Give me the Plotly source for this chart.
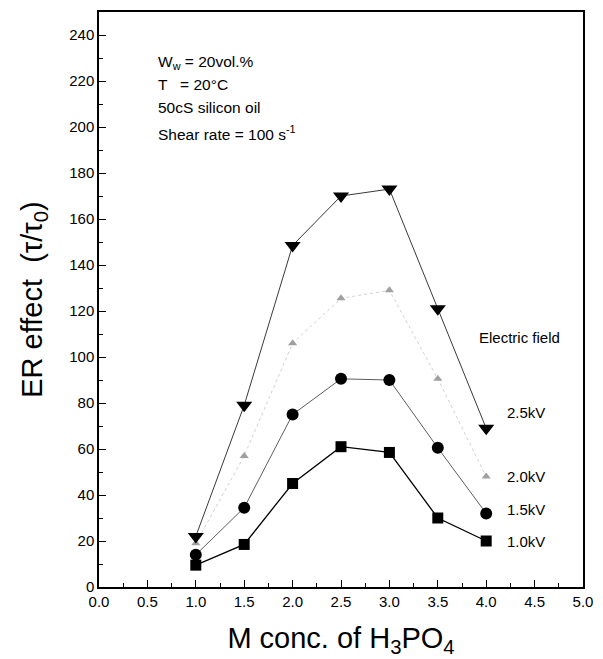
import plotly.graph_objects as go

conc = [1.0, 1.5, 2.0, 2.5, 3.0, 3.5, 4.0]
kv10 = [9.5, 18.5, 45, 61, 58.5, 30, 20]
kv15 = [14, 34.5, 75, 90.5, 90, 60.5, 32]
kv20 = [19, 57, 106, 125.5, 129, 90.5, 48]
kv25 = [22, 79, 148.5, 170, 173, 121, 69]
labels = ["1.0kV", "1.5kV", "2.0kV", "2.5kV"]
xticks = [0.0, 0.5, 1.0, 1.5, 2.0, 2.5, 3.0, 3.5, 4.0, 4.5, 5.0]
yticks = list(range(0, 241, 20))

fig = go.Figure()
fig.add_trace(go.Scatter(x=conc, y=kv20, mode="lines+markers",
                         line=dict(color="#d0d0d0", width=1, dash="dot"),
                         marker=dict(symbol="triangle-up", size=8, color="#a0a0a0")))
fig.add_trace(go.Scatter(x=conc, y=kv10, mode="lines+markers",
                         line=dict(color="black", width=1.3),
                         marker=dict(symbol="square", size=11, color="black")))
fig.add_trace(go.Scatter(x=conc, y=kv15, mode="lines+markers",
                         line=dict(color="#333", width=0.8),
                         marker=dict(symbol="circle", size=12, color="black")))
fig.add_trace(go.Scatter(x=conc, y=kv25, mode="lines+markers",
                         line=dict(color="#222", width=0.9),
                         marker=dict(symbol="triangle-down", size=14, color="black")))

font = dict(family="Arial, Liberation Sans", color="black")
ann = []
lab_y = [kv10[-1], kv15[-1], kv20[-1], kv25[-1]]
offs = [0, 1.8, 0, 7]
for t, yv, o in zip(labels, lab_y, offs):
    ann.append(dict(x=4.19, y=yv + o, xref="x", yref="y", text=t, showarrow=False,
                    xanchor="left", yanchor="middle", font=dict(size=15, **font)))
ann.append(dict(x=3.9, y=108.5, xref="x", yref="y", text="Electric field", showarrow=False,
                xanchor="left", yanchor="middle", font=dict(size=15, **font)))
info = ["W<sub>w</sub> = 20vol.%", "T   = 20°C", "50cS silicon oil", "Shear rate = 100 s<sup>-1</sup>"]
info_y = [228, 218.5, 208.5, 197.5]
for t, yv in zip(info, info_y):
    ann.append(dict(x=0.59, y=yv, xref="x", yref="y", text=t, showarrow=False,
                    xanchor="left", yanchor="middle", font=dict(size=15.5, **font)))

fig.update_layout(
    width=603, height=659, margin=dict(l=99, r=10, t=12, b=72),
    plot_bgcolor="white", paper_bgcolor="white", showlegend=False,
    annotations=ann, font=font,
)
fig.update_xaxes(range=[0, 5], tickvals=xticks, ticktext=[f"{v:.1f}" for v in xticks],
                 ticks="inside", ticklen=7, tickwidth=1.2, tickcolor="black",
                 minor=dict(ticks="inside", ticklen=4, dtick=0.25, tickcolor="black"),
                 showline=True, linecolor="black", linewidth=1.5, mirror=True,
                 showgrid=False, zeroline=False, tickfont=dict(size=15, **font),
                 title=dict(text="M conc. of H<sub>3</sub>PO<sub>4</sub>", font=dict(size=29, **font), standoff=19))
fig.update_yaxes(range=[0, 250], tickvals=yticks,
                 ticks="inside", ticklen=7, tickwidth=1.2, tickcolor="black",
                 minor=dict(ticks="inside", ticklen=4, dtick=10, tickcolor="black"),
                 showline=True, linecolor="black", linewidth=1.5, mirror=True,
                 showgrid=False, zeroline=False, tickfont=dict(size=15, **font),
                 title=dict(text="ER effect  (τ/τ<sub>0</sub>)", font=dict(size=29, **font), standoff=18))

fig.write_html("out.html")
